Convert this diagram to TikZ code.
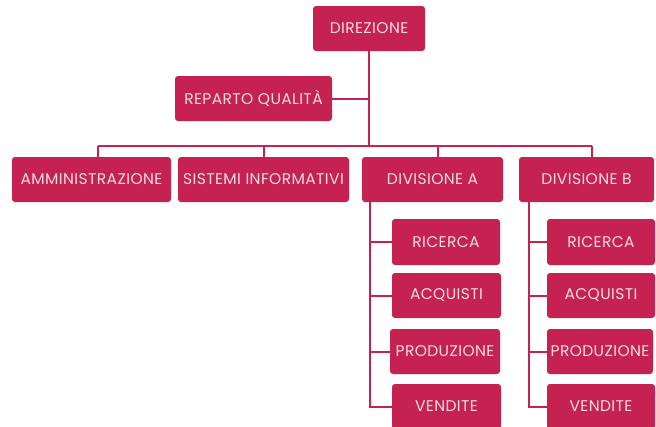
\documentclass[tikz,border=0pt]{standalone}
\usepackage{fontspec}
\setmainfont{Poppins}[LetterSpace=2.5]
\definecolor{crimson}{HTML}{C52252}
\definecolor{boxtext}{HTML}{F7DCE4}
\begin{document}
\begin{tikzpicture}[x=1pt,y=-1pt,
  unit/.style={fill=crimson, rounded corners=3pt, inner sep=0pt,
    minimum height=45pt, text=boxtext, font=\fontsize{15.5}{16}\selectfont},
  link/.style={draw=crimson, line width=2pt}]
\useasboundingbox (0,0) rectangle (656,426);
\clip (0,0) rectangle (656,426);

% top level
\node[unit, minimum width=112pt] (dir) at (369,28.5) {DIREZIONE};
\node[unit, minimum width=157pt] (rq) at (253.5,98.5) {REPARTO QUALITÀ};

% second level
\node[unit, minimum width=159pt] (amm) at (91.5,179.5) {AMMINISTRAZIONE};
\node[unit, minimum width=171pt] (sis) at (263.5,179.5) {SISTEMI INFORMATIVI};
\node[unit, minimum width=141pt] (divA) at (432.5,179.5) {DIVISIONE A};
\node[unit, minimum width=135pt] (divB) at (586.5,179.5) {DIVISIONE B};

% division A units
\node[unit, minimum width=108pt, minimum height=46pt] (aric) at (446,242) {RICERCA};
\node[unit, minimum width=109pt] (aacq) at (446.5,295.5) {ACQUISTI};
\node[unit, minimum width=110pt] (apro) at (445,351.5) {PRODUZIONE};
\node[unit, minimum width=109pt] (aven) at (446.5,406.5) {VENDITE};

% division B units
\node[unit, minimum width=108pt, minimum height=46pt] (bric) at (601,242) {RICERCA};
\node[unit, minimum width=108pt] (bacq) at (601,295.5) {ACQUISTI};
\node[unit, minimum width=106pt] (bpro) at (600,351.5) {PRODUZIONE};
\node[unit, minimum width=108pt] (bven) at (601,406.5) {VENDITE};

% connector anchors
\coordinate (bar) at (369,146);
\coordinate (barL) at (98,146);
\coordinate (barR) at (592,146);
\coordinate (barA) at (438,146);
\coordinate (spA) at (370,202);
\coordinate (spB) at (529,202);

% main trunk and horizontal bar
\draw[link] (dir.south) -- (bar);
\draw[link] (rq.east) -- (rq.east -| bar);
\draw[link] (barL) -- (barR);
\draw[link] (barL) -- (barL |- amm.north);
\draw[link] (sis.north |- bar) -- (sis.north);
\draw[link] (barA) -- (barA |- divA.north);
\draw[link] (barR) -- (barR |- divB.north);

% division A spine
\draw[link] (spA) |- (aven.west);
\draw[link] (spA |- aric.west) -- (aric.west);
\draw[link] (spA |- aacq.west) -- (aacq.west);
\draw[link] (spA |- apro.west) -- (apro.west);

% division B spine
\draw[link] (spB) |- (bven.west);
\draw[link] (spB |- bric.west) -- (bric.west);
\draw[link] (spB |- bacq.west) -- (bacq.west);
\draw[link] (spB |- bpro.west) -- (bpro.west);
\end{tikzpicture}
\end{document}
